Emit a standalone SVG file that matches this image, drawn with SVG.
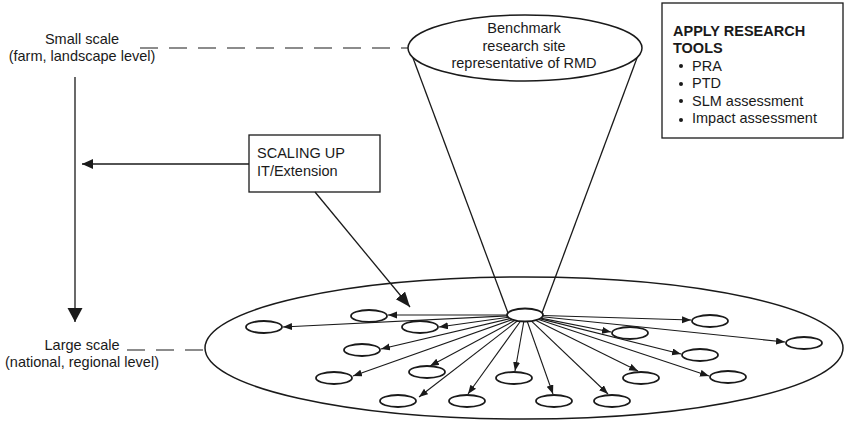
<svg xmlns="http://www.w3.org/2000/svg" width="844" height="421" viewBox="0 0 844 421">
  <style>
    text { font-family: "Liberation Sans", Arial, sans-serif; font-size: 14.5px; fill: #1a1a1a; }
    .mid { text-anchor: middle; }
    .bold { font-weight: bold; }
    .line { stroke: #1a1a1a; stroke-width: 1.3; fill: none; }
    .dash { stroke: #1a1a1a; stroke-width: 1.2; fill: none; stroke-dasharray: 18 11; }
    .site { stroke: #1a1a1a; stroke-width: 1.8; fill: #fff; }
    .shape { stroke: #1a1a1a; stroke-width: 1.5; fill: none; }
    .box { stroke: #1a1a1a; stroke-width: 1.3; fill: #fff; }
    .spoke { stroke: #1a1a1a; stroke-width: 1.1; fill: none; marker-end: url(#tip); }
  </style>
  <defs>
    <marker id="tip" markerUnits="userSpaceOnUse" markerWidth="10" markerHeight="8" refX="9" refY="3.5" orient="auto">
      <path d="M0,0 L9,3.5 L0,7 z" fill="#1a1a1a"/>
    </marker>
    <marker id="bigtip" markerUnits="userSpaceOnUse" markerWidth="16" markerHeight="14" refX="15" refY="6" orient="auto">
      <path d="M0,0 L15,6 L0,12 z" fill="#1a1a1a"/>
    </marker>
    <marker id="midtip" markerUnits="userSpaceOnUse" markerWidth="12" markerHeight="11" refX="11" refY="5" orient="auto">
      <path d="M0,0 L11,5 L0,10 z" fill="#1a1a1a"/>
    </marker>
    <marker id="scaletip" markerUnits="userSpaceOnUse" markerWidth="16" markerHeight="16" refX="14" refY="7.5" orient="auto">
      <path d="M0,0 L14,7.5 L0,15 z" fill="#1a1a1a"/>
    </marker>
  </defs>

  <!-- Scale axis labels -->
  <g id="small-scale">
    <text class="mid" x="82" y="44">Small scale</text>
    <text class="mid" x="82" y="61">(farm, landscape level)</text>
  </g>
  <g id="large-scale">
    <text class="mid" x="82" y="350">Large scale</text>
    <text class="mid" x="82" y="367">(national, regional level)</text>
  </g>

  <!-- Regional plane -->
  <g id="region">
    <ellipse class="shape" cx="524" cy="348" rx="319" ry="71"/>
  </g>

  <!-- Funnel from benchmark site down to the plane -->
  <g id="funnel">
    <line class="line" x1="413" y1="58" x2="508" y2="313"/>
    <line class="line" x1="637" y1="58" x2="542" y2="313"/>
  </g>

  <g id="benchmark">
    <ellipse class="shape" cx="525" cy="48" rx="117" ry="33" fill="#fff"/>
    <text class="mid" x="524" y="33">Benchmark</text>
    <text class="mid" x="524" y="51">research site</text>
    <text class="mid" x="524" y="68">representative of RMD</text>
  </g>

  <g id="tools">
    <rect class="box" x="662" y="3" width="181" height="135"/>
    <text class="bold" x="673" y="36">APPLY RESEARCH</text>
    <text class="bold" x="673" y="53">TOOLS</text>
    <circle cx="681" cy="66" r="2" fill="#1a1a1a"/>
    <text x="692" y="71">PRA</text>
    <circle cx="681" cy="84" r="2" fill="#1a1a1a"/>
    <text x="692" y="88">PTD</text>
    <circle cx="681" cy="101" r="2" fill="#1a1a1a"/>
    <text x="692" y="106">SLM assessment</text>
    <circle cx="681" cy="120" r="2" fill="#1a1a1a"/>
    <text x="692" y="123">Impact assessment</text>
  </g>

  <g id="scaling-up">
    <rect class="box" x="249" y="135" width="131" height="57"/>
    <text x="257" y="158">SCALING UP</text>
    <text x="257" y="176">IT/Extension</text>
  </g>

  <!-- Connectors -->
  <g id="connectors">
    <line class="dash" x1="140" y1="48" x2="408" y2="48"/>
    <line class="dash" x1="127" y1="350" x2="205" y2="350" stroke-dasharray="18 10"/>
    <line class="line" x1="75" y1="77" x2="75" y2="322" marker-end="url(#scaletip)"/>
    <line class="line" x1="249" y1="164" x2="82" y2="164" marker-end="url(#midtip)"/>
    <line class="line" x1="315" y1="192" x2="410" y2="307" marker-end="url(#bigtip)"/>

    <!-- spokes from the benchmark site to the replicated sites -->
    <line class="spoke" x1="507" y1="315" x2="388" y2="315"/>
    <line class="spoke" x1="508.4" y1="317.3" x2="439" y2="327"/>
    <line class="spoke" x1="507.2" y1="315.9" x2="283" y2="327"/>
    <line class="spoke" x1="510.3" y1="318.5" x2="381" y2="349"/>
    <line class="spoke" x1="512.7" y1="319.4" x2="353" y2="376"/>
    <line class="spoke" x1="515.5" y1="320.1" x2="430" y2="366"/>
    <line class="spoke" x1="517.9" y1="320.5" x2="419" y2="397"/>
    <line class="spoke" x1="520.8" y1="320.8" x2="468" y2="394"/>
    <line class="spoke" x1="523.9" y1="321" x2="515" y2="371"/>
    <line class="spoke" x1="527.1" y1="321" x2="553" y2="394"/>
    <line class="spoke" x1="531" y1="320.7" x2="608" y2="394"/>
    <line class="spoke" x1="535" y1="320" x2="638" y2="371"/>
    <line class="spoke" x1="537.8" y1="319.2" x2="709" y2="376"/>
    <line class="spoke" x1="539.4" y1="318.6" x2="681" y2="354"/>
    <line class="spoke" x1="540.5" y1="318.1" x2="611" y2="332"/>
    <line class="spoke" x1="542.9" y1="315.5" x2="691" y2="320"/>
    <line class="spoke" x1="542.2" y1="316.8" x2="785" y2="342"/>
  </g>

  <!-- Benchmark site on the plane and replicated sites -->
  <g id="site-source"><ellipse class="site" cx="525" cy="315" rx="18" ry="6.5"/></g>
  <g id="site-a"><ellipse class="site" cx="369" cy="316" rx="18" ry="6"/></g>
  <g id="site-b"><ellipse class="site" cx="420" cy="327" rx="18" ry="6"/></g>
  <g id="site-c"><ellipse class="site" cx="264" cy="327" rx="18" ry="6"/></g>
  <g id="site-d"><ellipse class="site" cx="362" cy="350" rx="18" ry="6"/></g>
  <g id="site-e"><ellipse class="site" cx="334" cy="378" rx="18" ry="6"/></g>
  <g id="site-f"><ellipse class="site" cx="427" cy="372" rx="18" ry="6"/></g>
  <g id="site-g"><ellipse class="site" cx="398" cy="401" rx="18" ry="6"/></g>
  <g id="site-h"><ellipse class="site" cx="467" cy="401" rx="18" ry="6"/></g>
  <g id="site-n"><ellipse class="site" cx="514" cy="378" rx="18" ry="6"/></g>
  <g id="site-p"><ellipse class="site" cx="554" cy="401" rx="18" ry="6"/></g>
  <g id="site-q"><ellipse class="site" cx="612" cy="401" rx="18" ry="6"/></g>
  <g id="site-o"><ellipse class="site" cx="641" cy="378" rx="18" ry="6"/></g>
  <g id="site-m"><ellipse class="site" cx="728" cy="377" rx="18" ry="6"/></g>
  <g id="site-l"><ellipse class="site" cx="700" cy="355" rx="18" ry="6"/></g>
  <g id="site-j"><ellipse class="site" cx="630" cy="333" rx="18" ry="6"/></g>
  <g id="site-i"><ellipse class="site" cx="710" cy="321" rx="18" ry="6"/></g>
  <g id="site-k"><ellipse class="site" cx="804" cy="343" rx="18" ry="6"/></g>
</svg>
